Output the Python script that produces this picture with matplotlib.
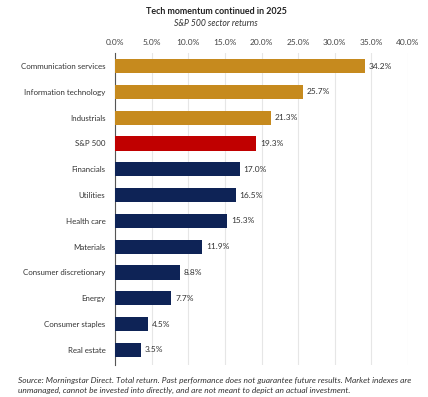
import numpy as np
import matplotlib
matplotlib.use('Agg')
import matplotlib.pyplot as plt

plt.rcParams['font.family'] = ['Lato', 'DejaVu Sans']

sectors = ['Communication services', 'Information technology', 'Industrials', 'S&P 500',
           'Financials', 'Utilities', 'Health care', 'Materials',
           'Consumer discretionary', 'Energy', 'Consumer staples', 'Real estate']
returns = [34.2, 25.7, 21.3, 19.3, 17.0, 16.5, 15.3, 11.9, 8.8, 7.7, 4.5, 3.5]
groups = ['top', 'top', 'top', 'index'] + ['rest'] * 8
ticks = [0, 5, 10, 15, 20, 25, 30, 35, 40]

palette = {'top': '#C68A1E', 'index': '#C00000', 'rest': '#0E2356'}
colors = [palette[g] for g in groups]

fig = plt.figure(figsize=(4.28, 3.97), dpi=100)
ax = fig.add_axes([0.269, 0.081, 0.684, 0.785])

y = np.arange(len(sectors))
ax.barh(y, returns, height=0.55, color=colors, zorder=3)
for yi, v in zip(y, returns):
    ax.text(v + 0.5, yi, '%.1f%%' % v, va='center', ha='left', fontsize=6, color='#333333')

ax.set_xlim(0, 40)
ax.set_ylim(11.58, -0.5)
ax.set_xticks(ticks)
ax.set_xticklabels(['%.1f%%' % t for t in ticks], fontsize=6, color='#444444')
ax.xaxis.tick_top()
ax.tick_params(axis='x', length=0, pad=5)
ax.set_yticks(y)
ax.set_yticklabels(sectors, fontsize=5.7, color='#333333')
ax.tick_params(axis='y', length=0, pad=7)
ax.grid(axis='x', color='#e6e6e6', linewidth=0.8, zorder=0)
for s in ['top', 'right', 'bottom']:
    ax.spines[s].set_visible(False)
ax.spines['left'].set_color('#555555')
ax.spines['left'].set_linewidth(0.8)

fig.text(0.505, 0.972, 'Tech momentum continued in 2025', ha='center', va='center',
         fontsize=6.4, fontweight='bold', color='#222222')
fig.text(0.505, 0.94, 'S&P 500 sector returns', ha='center', va='center',
         fontsize=6.2, style='italic', color='#333333')
fig.text(0.042, 0.029, 'Source: Morningstar Direct. Total return. Past performance does not guarantee future results. Market indexes are\n'
         'unmanaged, cannot be invested into directly, and are not meant to depict an actual investment.',
         ha='left', va='center', fontsize=6.0, style='italic', color='#333333', linespacing=1.6)

fig.savefig('out.png', dpi=100)
